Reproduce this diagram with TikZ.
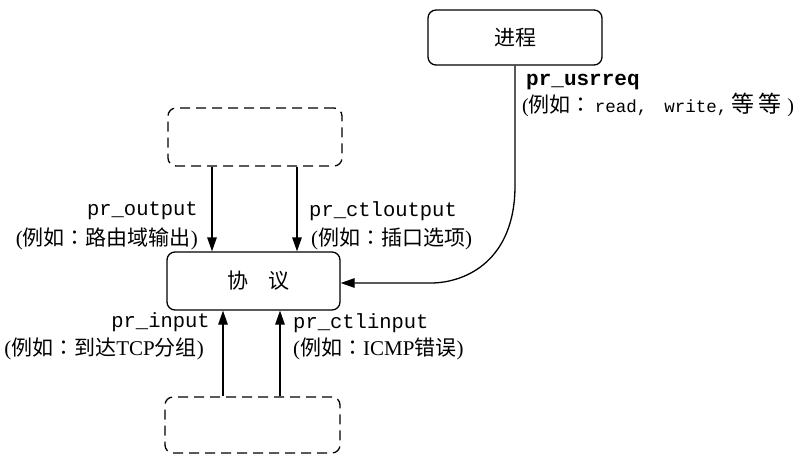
\documentclass[tikz,border=0pt]{standalone}
\usepackage{fontspec}
\setmainfont{Liberation Serif}
\setmonofont{Liberation Mono}
\newfontfamily\cjk{Noto Sans CJK SC}
\newfontfamily\cjktc{Noto Sans CJK TC}
\newcommand\fcolon{{\cjktc ：}}
\usetikzlibrary{arrows.meta}
\begin{document}
\begin{tikzpicture}[x=1pt,y=-1pt,
  box/.style={draw, rounded corners=8pt, line width=1.3pt, inner sep=0pt},
  dbox/.style={box, dash pattern=on 10pt off 6pt},
  arr/.style={line width=1.3pt, -{Triangle[length=14pt,width=9.5pt]}},
  fn/.style={inner sep=0pt, font=\fontsize{20.5}{22}\selectfont\ttfamily},
  cn/.style={inner sep=0pt, font=\fontsize{21}{24}\selectfont},
  boxtext/.style={font=\fontsize{21}{24}\selectfont\cjk}]
\useasboundingbox (0,0) rectangle (802,458);
% boxes
\node[box, minimum width=174pt, minimum height=55pt, boxtext] (proc) at (515,37.5) {进程};
\node[dbox, minimum width=174pt, minimum height=58pt] (top) at (255,137) {};
\node[box, minimum width=173pt, minimum height=58pt, boxtext] (prot) at (253.5,281) {\hspace{10pt}协\hspace{20pt}议};
\node[dbox, minimum width=175pt, minimum height=56pt] (bot) at (252.5,425) {};
% connectors
\draw[arr] ([xshift=-43pt]top.south) -- ([xshift=-43pt]top.south |- prot.north);
\draw[arr] ([xshift=42pt]top.south) -- ([xshift=42pt]top.south |- prot.north);
\draw[arr] ([xshift=-29.5pt]bot.north) -- ([xshift=-29.5pt]bot.north |- prot.south);
\draw[arr] ([xshift=27.5pt]bot.north) -- ([xshift=27.5pt]bot.north |- prot.south);
\draw[arr] (proc.south) -- ++(0,120) .. controls +(0,75) and +(35,0) .. ([xshift=90pt,yshift=-2pt]prot.east) -- ([yshift=-2pt]prot.east);
% labels
\node[fn, anchor=base east] (lo1) at (198,215) {pr\_output};
\node[cn, anchor=base east] (lo2) at (198,245) {({\cjk 例如\fcolon 路由域输出})};
\node[fn, anchor=base west] (lc1) at (309,216) {pr\_ctloutput};
\node[cn, anchor=base west] (lc2) at (311,245) {({\cjk 例如\fcolon 插口选项})};
\node[fn, anchor=base east] (li1) at (210,327) {pr\_input};
\node[cn, anchor=base east] (li2) at (204,355) {({\cjk 例如\fcolon 到达}TCP{\cjk 分组})};
\node[fn, anchor=base west] (lci1) at (293,328) {pr\_ctlinput};
\node[cn, anchor=base west] (lci2) at (293,355) {({\cjk 例如\fcolon}ICMP{\cjk 错误})};
\node[fn, anchor=base west, font=\fontsize{21}{22}\selectfont\ttfamily\bfseries] (lu1) at (526,85) {pr\_usrreq};
\node[inner sep=0pt, anchor=base west, font=\fontsize{20}{22}\selectfont] (lu2) at (522,112) {({\fontsize{21}{22}\selectfont\cjk 例如\fcolon}\hspace{3pt}{\fontsize{17.5}{20}\selectfont\ttfamily read,}\hspace{17pt}{\fontsize{17.5}{20}\selectfont\ttfamily write,}\hspace{4pt}{\fontsize{23}{26}\selectfont\cjk 等\hspace{4pt}等}\hspace{6pt})};
\end{tikzpicture}
\end{document}
